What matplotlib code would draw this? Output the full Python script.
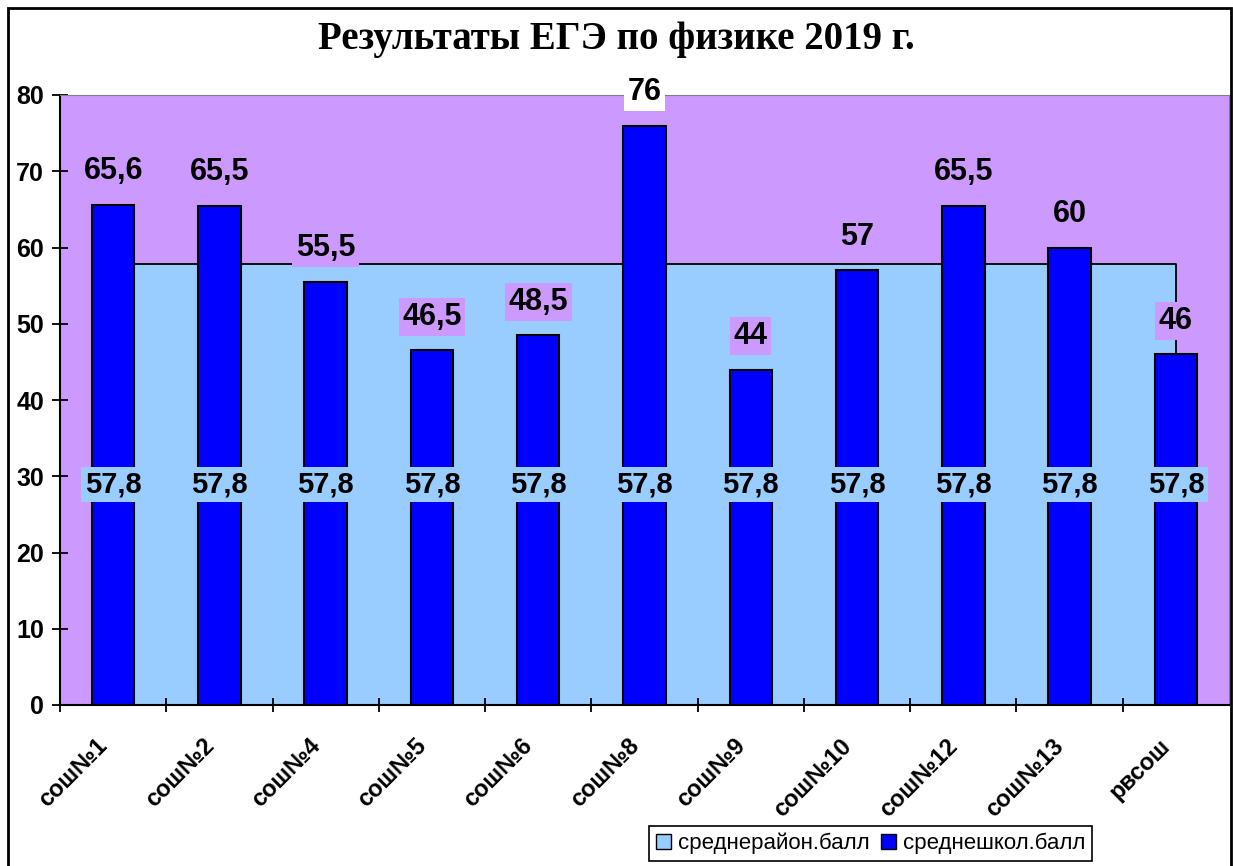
import matplotlib
matplotlib.use("Agg")
import matplotlib.pyplot as plt
import matplotlib.transforms as mtransforms
from matplotlib.patches import Patch, Rectangle

schools = ["сош№1", "сош№2", "сош№4", "сош№5", "сош№6", "сош№8",
           "сош№9", "сош№10", "сош№12", "сош№13", "рвсош"]
school_avg = [65.6, 65.5, 55.5, 46.5, 48.5, 76, 44, 57, 65.5, 60, 46]
district_avg = [57.8] * 11

purple = "#CC99FF"
light_blue = "#99CCFF"
blue = "#0000FF"

plt.rcParams["font.family"] = ["Liberation Sans", "DejaVu Sans"]

fig = plt.figure(figsize=(12.33, 8.66), dpi=100)
ax = fig.add_axes([60 / 1233, 1 - 705 / 866, (1229 - 60) / 1233, (705 - 95) / 866])
ax.set_facecolor(purple)

x = list(range(len(schools)))

# district average as area behind the bars
ax.fill_between(x, 0, district_avg, facecolor=light_blue, edgecolor="black",
                linewidth=1.3, zorder=1)
ax.bar(x, school_avg, width=0.4, color=blue, edgecolor="black", linewidth=1.5, zorder=2)

for i, v in enumerate(school_avg):
    fc = "white" if v >= 75 else purple
    ax.annotate(f"{v:g}".replace(".", ","), (i, v), xytext=(0, 24),
                textcoords="offset points", ha="center", va="center",
                fontsize=22, fontweight="bold", zorder=4,
                bbox=dict(boxstyle="square,pad=0.12", fc=fc, ec="none"))

for i, v in enumerate(district_avg):
    ax.text(i, v / 2, f"{v:g}".replace(".", ","), ha="center", va="center",
            fontsize=21, fontweight="bold", zorder=4,
            bbox=dict(boxstyle="square,pad=0.12", fc=light_blue, ec="none"))

ax.set_xlim(-0.5, len(schools) - 0.5)
ax.set_ylim(0, 80)
ax.set_yticks(range(0, 81, 10))
ax.tick_params(axis="y", direction="inout", length=11, width=1.3, labelsize=18, pad=6)
for lab in ax.get_yticklabels():
    lab.set_fontweight("bold")

ax.set_xticks([i - 0.5 for i in range(len(schools))])
ax.set_xticklabels([])
ax.tick_params(axis="x", which="major", direction="inout", length=10, width=1.3)
ax.set_xticks(x, minor=True)
ax.set_xticklabels(schools, minor=True, rotation=45, ha="right", va="center",
                   rotation_mode="anchor", fontsize=17, fontweight="bold")
ax.tick_params(axis="x", which="minor", length=0, pad=27)
shift = mtransforms.ScaledTranslation(-9 / 100, 0, fig.dpi_scale_trans)
for lab in ax.get_xticklabels(minor=True):
    lab.set_transform(lab.get_transform() + shift)

ax.spines["left"].set_linewidth(1.5)
ax.spines["bottom"].set_linewidth(1.5)
ax.spines["top"].set_color("#808080")
ax.spines["right"].set_color("#808080")

fig.text(0.5, 1 - 40 / 866, "Результаты ЕГЭ по физике 2019 г.", ha="center", va="center",
         fontsize=28, fontweight="bold", family="Liberation Serif")

handles = [Patch(facecolor=light_blue, edgecolor="black", label="среднерайон.балл"),
           Patch(facecolor=blue, edgecolor="black", label="среднешкол.балл")]
leg = fig.legend(handles=handles, loc="upper left", bbox_to_anchor=(649 / 1233, 1 - 826 / 866),
                 ncol=2, fontsize=16, frameon=True, fancybox=False, framealpha=1,
                 edgecolor="black", handlelength=0.7, handleheight=0.7, handletextpad=0.3,
                 columnspacing=0.5, borderpad=0.3, borderaxespad=0)
leg.get_frame().set_linewidth(1.2)

# outer frame of the chart
fig.patches.append(Rectangle((8 / 1233, -0.05), (1231 - 8) / 1233, 1.05 - 8 / 866,
                             transform=fig.transFigure, fill=False, edgecolor="black",
                             linewidth=2))

fig.savefig("out.png", dpi=100)
